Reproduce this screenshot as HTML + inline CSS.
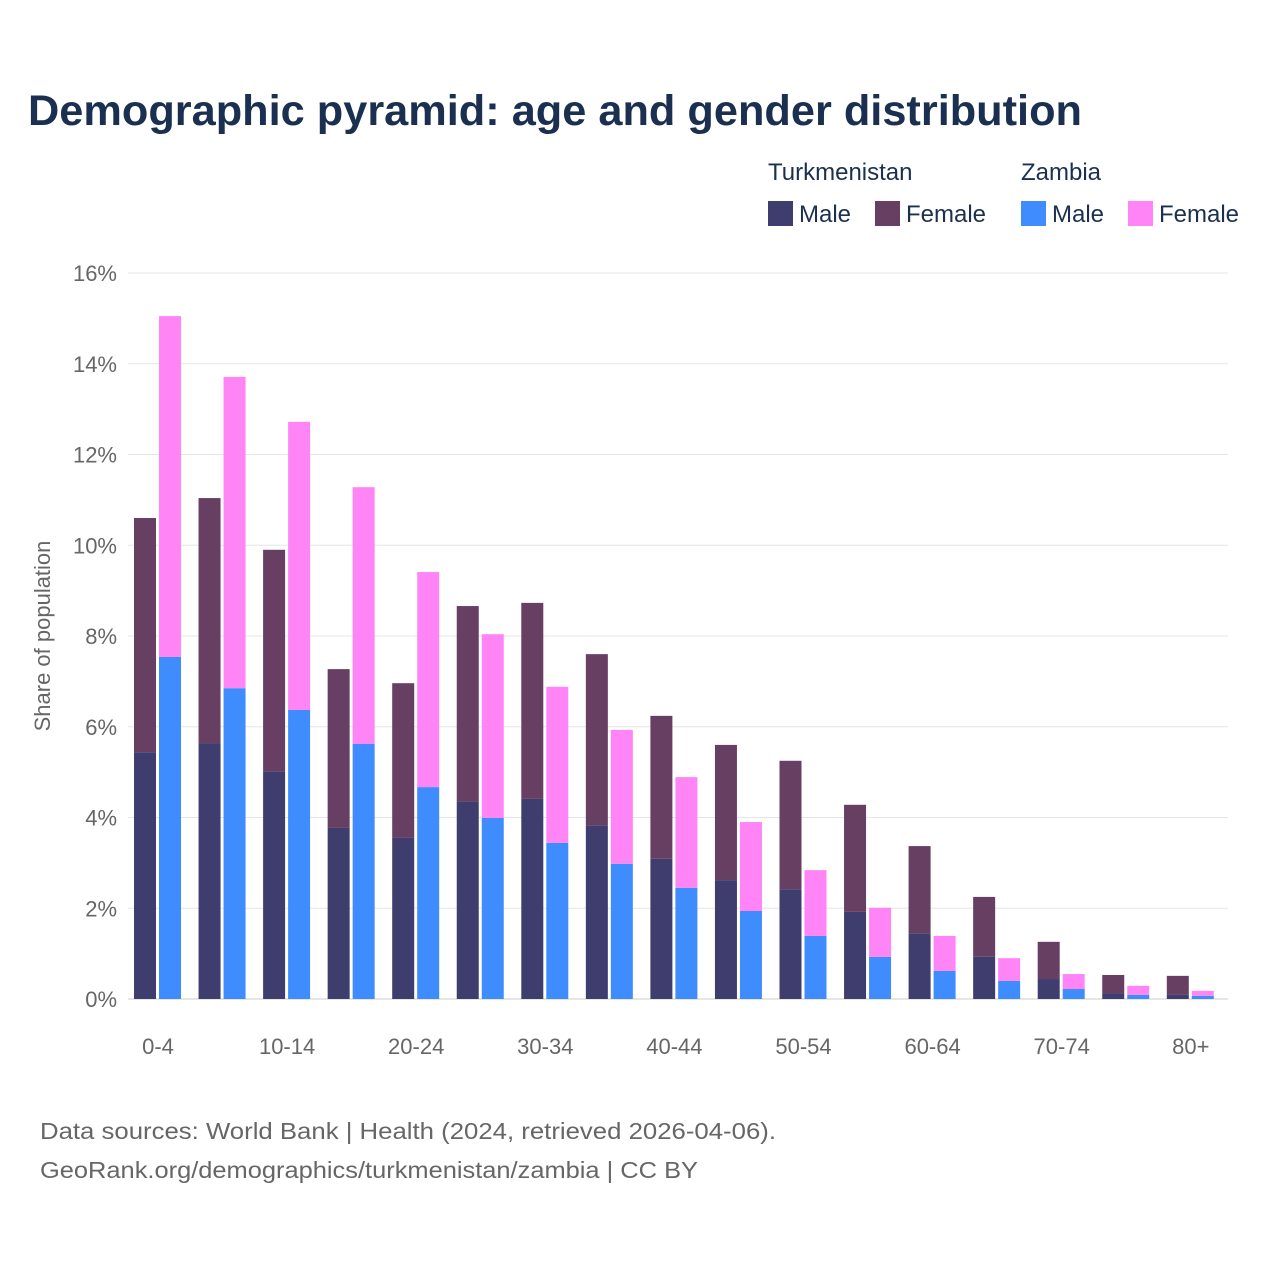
<!DOCTYPE html>
<html><head><meta charset="utf-8">
<style>
body{margin:0;background:#fff;font-family:"Liberation Sans",sans-serif;}
#wrap{position:relative;width:1280px;height:1280px;overflow:hidden;}
</style></head>
<body>
<div id="wrap">
<svg id="chart" width="1280" height="1280">
<text x="28" y="125" font-size="43" font-weight="bold" fill="#1b3050" textLength="1054" lengthAdjust="spacingAndGlyphs">Demographic pyramid: age and gender distribution</text>
<g font-size="24" fill="#1b3050">
<text x="768" y="180">Turkmenistan</text>
<text x="1021" y="180">Zambia</text>
<rect x="768" y="201" width="25" height="25" fill="#3f3d6e"/>
<text x="799" y="222">Male</text>
<rect x="875" y="201" width="25" height="25" fill="#663f63"/>
<text x="906" y="222">Female</text>
<rect x="1021" y="201" width="25" height="25" fill="#3f8cff"/>
<text x="1052" y="222">Male</text>
<rect x="1128" y="201" width="25" height="25" fill="#ff85f7"/>
<text x="1159" y="222">Female</text>
</g>
<text transform="translate(50,636) rotate(-90)" text-anchor="middle" font-size="22" fill="#666">Share of population</text>
<g id="grid"></g>
<g id="bars"></g>
<g id="xlabels"></g>
<text x="40" y="1139" font-size="23" fill="#666" textLength="736" lengthAdjust="spacingAndGlyphs">Data sources: World Bank | Health (2024, retrieved 2026-04-06).</text>
<text x="40" y="1178" font-size="23" fill="#666" textLength="658" lengthAdjust="spacingAndGlyphs">GeoRank.org/demographics/turkmenistan/zambia | CC BY</text>
</svg>
</div>
<script>
const categories = ["0-4","5-9","10-14","15-19","20-24","25-29","30-34","35-39","40-44","45-49","50-54","55-59","60-64","65-69","70-74","75-79","80+"];
const tmMale =   [5.44,5.64,5.02,3.77,3.55,4.36,4.41,3.83,3.09,2.62,2.42,1.92,1.45,0.93,0.44,0.13,0.09];
const tmFemale = [5.16,5.40,4.88,3.50,3.41,4.30,4.32,3.77,3.15,2.98,2.83,2.36,1.92,1.32,0.82,0.40,0.42];
const zmMale =   [7.54,6.85,6.37,5.62,4.67,3.99,3.44,2.98,2.45,1.94,1.39,0.93,0.62,0.40,0.22,0.09,0.07];
const zmFemale = [7.51,6.86,6.35,5.66,4.74,4.05,3.44,2.95,2.44,1.96,1.45,1.08,0.77,0.50,0.33,0.20,0.11];
const yTicks = [0,2,4,6,8,10,12,14,16];

const NS="http://www.w3.org/2000/svg";
const y0=999, yTop=273, yMax=16;
const yScale=v=>y0-(v/yMax)*(y0-yTop);
const xCenter=i=>158+i*64.55;
function mk(tag,attrs,parent){const e=document.createElementNS(NS,tag);for(const k in attrs)e.setAttribute(k,attrs[k]);parent.appendChild(e);return e;}
const grid=document.getElementById('grid');
yTicks.forEach(t=>{
  const l=mk('line',{x1:128,x2:1228,y1:yScale(t),y2:yScale(t),stroke:t===0?'#ccc':'#e6e6e6','stroke-width':1},grid);
  
  
  const tx=mk('text',{x:117,y:yScale(t)+8,'text-anchor':'end','font-size':22,fill:'#666'},grid);
  tx.textContent=t+'%';
  
  
});
const bars=document.getElementById('bars');
function bar(x,v0,v1,color,name){
  const r=mk('rect',{x:x,y:yScale(v1),width:22,height:yScale(v0)-yScale(v1),fill:color},bars);
  
  
}
categories.forEach((c,i)=>{
  const cx=xCenter(i);
  bar(cx-24,0,tmMale[i],'#3f3d6e','bar-tm-male-'+c);
  bar(cx-24,tmMale[i],tmMale[i]+tmFemale[i],'#663f63','bar-tm-female-'+c);
  bar(cx+1,0,zmMale[i],'#3f8cff','bar-zm-male-'+c);
  bar(cx+1,zmMale[i],zmMale[i]+zmFemale[i],'#ff85f7','bar-zm-female-'+c);
  if(i%2===0){
    const t=mk('text',{x:cx,y:1054,'text-anchor':'middle','font-size':22,fill:'#666'},document.getElementById('xlabels'));
    t.textContent=c;
    
    
  }
});
</script>
</body></html>
